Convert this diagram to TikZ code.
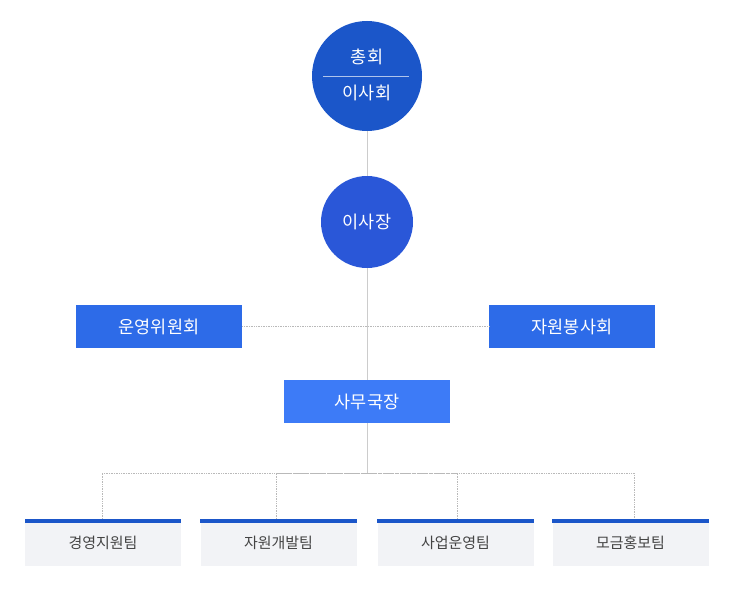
\documentclass[tikz,border=0pt]{standalone}
\usepackage{fontspec}
\setmainfont{Noto Sans CJK KR}
\definecolor{BoardBlue}{HTML}{1B56C9}
\definecolor{ChairBlue}{HTML}{2A57D8}
\definecolor{CommBlue}{HTML}{2D6BE8}
\definecolor{OfficeBlue}{HTML}{3D7BF7}
\definecolor{TeamGray}{HTML}{F2F3F6}
\definecolor{TeamText}{HTML}{444444}
\usetikzlibrary{positioning, calc}

\begin{document}
\begin{tikzpicture}[x=1pt, y=-1pt,
  circ/.style={circle, inner sep=0pt, text=white, font=\fontsize{17.5}{19}\selectfont},
  lbl/.style={text=white, inner sep=0pt, font=\fontsize{17.5}{19}\selectfont},
  blk/.style={minimum width=166pt, minimum height=43pt, inner sep=0pt, text=white, font=\fontsize{17.5}{19}\selectfont},
  team/.style={fill=TeamGray, minimum width=156pt, minimum height=47pt, inner sep=0pt, text=TeamText, font=\fontsize{15}{17}\selectfont},
  vline/.style={gray!40, line width=0.7pt},
  dots/.style={gray!55, densely dotted, line width=0.7pt},
]
\useasboundingbox (0,0) rectangle (730,610);
% top of the chart
\node[circ, fill=BoardBlue, minimum size=110pt] (gm) at (367,76) {};
\node[lbl] (gmup) at (367,57) {총회};
\node[lbl] (gmdn) at (367,93) {이사회};
\draw[white!65!BoardBlue, line width=0.7pt] ([xshift=-44pt]gm.center) -- ([xshift=42pt]gm.center);
\node[circ, fill=ChairBlue, minimum size=92pt] (chair) at (367,222) {이사장};
% committees and office
\node[blk, fill=CommBlue] (ops) at (159,326.5) {운영위원회};
\node[blk, fill=CommBlue] (vol) at (572,326.5) {자원봉사회};
\node[blk, fill=OfficeBlue] (office) at (367,401.5) {사무국장};
\coordinate (bus) at (367,473);
% teams
\node[team] (t1) at (103,542.5) {경영지원팀};
\node[team] (t2) at (278.5,542.5) {자원개발팀};
\node[team] (t3) at (455.5,542.5) {사업운영팀};
\node[team] (t4) at (630.5,542.5) {모금홍보팀};
\foreach \t in {t1,t2,t3,t4}
  \fill[BoardBlue] (\t.north west) rectangle ([yshift=-4pt]\t.north east);
% lines
\draw[vline] (gm) -- (chair);
\draw[vline] (chair) -- (office);
\draw[vline] (office) -- (bus);
\draw[dots] (ops) -- (vol);
\draw[dots] ([xshift=-1pt]t1.north) |- (bus) -| ([xshift=3.5pt]t4.north);
\draw[dots] ([xshift=-2.5pt]t2.north) |- (bus);
\draw[dots] ([xshift=1.5pt]t3.north) |- (bus);
\end{tikzpicture}
\end{document}
